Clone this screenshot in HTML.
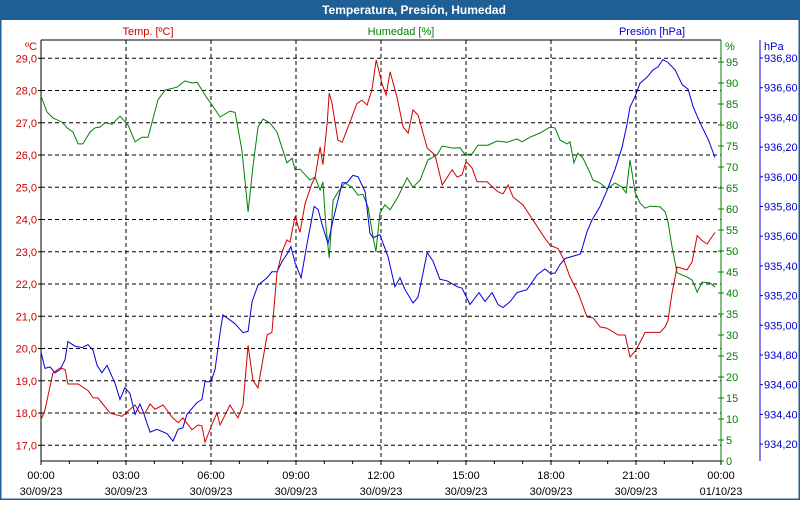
<!DOCTYPE html>
<html><head><meta charset="utf-8"><style>
body{margin:0;background:#fff;}
svg text{font-family:"Liberation Sans",sans-serif;font-size:11px;}
</style></head><body>
<svg id="chart" width="800" height="500" xmlns="http://www.w3.org/2000/svg">
<rect x="0.5" y="0.5" width="799" height="499" fill="#fff" stroke="#1e5f96" stroke-width="2"/>
<rect x="0" y="0" width="800" height="20" fill="#1e5f96"/>
<text x="414" y="14" fill="#fff" text-anchor="middle" font-weight="bold" style="font-size:12px">Temperatura, Presión, Humedad</text>
<text x="148" y="35" fill="#d00000" text-anchor="middle">Temp. [ºC]</text>
<text x="401" y="35" fill="#008000" text-anchor="middle">Humedad [%]</text>
<text x="652" y="35" fill="#0000cc" text-anchor="middle">Presión [hPa]</text>
<text x="37" y="50" fill="#d00000" text-anchor="end">ºC</text>
<text x="725" y="50" fill="#008000">%</text>
<text x="764" y="50" fill="#0000cc">hPa</text>
<g id="grid"></g><g id="axes"></g><g id="series"></g>
</svg>
<script>
const tempTicks=[17,18,19,20,21,22,23,24,25,26,27,28,29];
const humTicks=[0,5,10,15,20,25,30,35,40,45,50,55,60,65,70,75,80,85,90,95];
const presTicks=[934.2,934.4,934.6,934.8,935.0,935.2,935.4,935.6,935.8,936.0,936.2,936.4,936.6,936.8];
const timeLabels=["00:00","03:00","06:00","09:00","12:00","15:00","18:00","21:00","00:00"];
const dateLabels=["30/09/23","30/09/23","30/09/23","30/09/23","30/09/23","30/09/23","30/09/23","30/09/23","01/10/23"];
const tempHours=[0,0.14,0.42,0.67,0.85,0.95,1.31,1.66,1.84,2.01,2.44,2.86,3.32,3.49,3.67,3.85,4.02,4.31,4.62,4.84,5.01,5.33,5.54,5.68,5.79,6.07,6.21,6.32,6.67,6.95,7.13,7.31,7.48,7.66,7.98,8.15,8.33,8.51,8.68,8.79,8.97,9.14,9.32,9.57,9.67,9.85,9.95,10.1,10.17,10.27,10.48,10.63,10.91,11.15,11.33,11.51,11.68,11.83,12.04,12.18,12.32,12.57,12.78,12.96,13.13,13.31,13.63,13.91,14.16,14.51,14.69,14.86,15.0,15.21,15.39,15.74,16.13,16.31,16.49,16.66,17.01,17.37,17.72,17.97,18.25,18.43,18.67,18.96,19.27,19.49,19.73,19.98,20.37,20.62,20.79,21.0,21.32,21.67,21.85,22.03,22.13,22.27,22.45,22.8,22.98,23.16,23.33,23.51,23.79];
const tempValues=[17.79,18.1,19.24,19.4,19.35,18.9,18.9,18.7,18.47,18.47,18.0,17.9,18.25,18.0,18.0,18.28,18.12,18.25,17.88,17.7,17.85,17.48,17.63,17.6,17.1,17.72,18.0,17.63,18.25,17.85,18.25,20.1,19.02,18.78,20.42,20.5,22.35,23.0,23.37,23.3,24.1,23.6,24.5,25.13,25.3,26.25,25.7,27.0,27.92,27.6,26.46,26.4,27.03,27.6,27.7,27.55,28.02,28.95,28.2,27.86,28.58,27.77,26.87,26.68,27.4,27.24,26.22,26.0,25.07,25.54,25.32,25.38,25.8,25.6,25.17,25.17,24.86,24.8,25.07,24.7,24.45,23.98,23.5,23.2,23.1,22.8,22.22,21.72,20.98,20.95,20.67,20.63,20.42,20.42,19.74,19.95,20.5,20.5,20.5,20.67,20.88,21.72,22.53,22.44,22.69,23.5,23.35,23.24,23.6];
const humHours=[0,0.21,0.42,0.74,0.92,1.13,1.31,1.48,1.73,1.91,2.08,2.26,2.51,2.79,3.07,3.32,3.56,3.78,4.13,4.38,4.8,5.08,5.33,5.51,5.86,5.96,6.32,6.67,6.85,7.09,7.31,7.48,7.66,7.84,8.08,8.33,8.68,8.86,8.97,9.14,9.49,9.67,9.85,9.95,10.06,10.17,10.31,10.48,10.73,10.98,11.19,11.36,11.54,11.72,11.82,11.96,12.14,12.32,12.6,12.92,13.13,13.38,13.66,13.98,14.16,14.54,14.79,14.97,15.21,15.42,15.78,16.09,16.45,16.8,16.98,17.26,17.61,17.97,18.14,18.32,18.57,18.67,18.81,18.95,19.13,19.38,19.48,19.73,19.98,20.26,20.51,20.65,20.79,20.97,21.14,21.32,21.5,21.85,22.03,22.13,22.27,22.45,22.8,22.98,23.16,23.33,23.61,23.79];
const humValues=[86.9,83.1,81.7,80.7,79.3,78.3,75.5,75.5,78.3,79.3,79.5,80.5,80.2,82.1,80.0,76.0,77.1,77.1,86.0,88.3,89.0,90.5,90.0,90.2,86.4,85.5,81.9,83.3,83.0,74.0,59.3,70.0,79.5,81.4,80.5,78.3,71.0,72.1,69.3,69.5,66.9,67.6,64.5,66.4,55.7,48.3,62.1,64.0,66.2,65.2,63.3,63.5,60.5,53.3,49.8,59.0,61.0,59.8,62.9,67.4,65.2,66.9,71.7,72.9,75.0,74.5,74.6,72.9,73.1,75.2,75.2,76.2,75.9,76.7,76.0,77.1,78.1,79.5,79.3,76.4,75.5,76.0,71.0,73.3,72.1,68.6,66.9,66.2,64.8,66.2,65.2,63.8,71.7,64.0,61.4,60.2,60.7,60.5,59.3,56.9,51.0,44.8,43.8,43.1,40.2,42.6,42.4,41.4];
const presHours=[0,0.14,0.32,0.49,0.67,0.85,0.95,1.2,1.45,1.66,1.84,1.98,2.15,2.33,2.61,2.79,2.96,3.14,3.32,3.49,3.6,3.85,4.09,4.45,4.66,4.84,5.01,5.15,5.51,5.68,5.79,6.0,6.14,6.32,6.42,6.85,7.13,7.31,7.45,7.66,7.98,8.15,8.33,8.51,8.72,8.82,8.97,9.18,9.39,9.64,9.78,9.95,10.13,10.31,10.63,10.8,11.01,11.19,11.44,11.61,11.72,11.96,12.25,12.49,12.67,12.85,13.13,13.31,13.63,13.84,14.08,14.33,14.69,14.86,15.14,15.46,15.67,15.92,16.13,16.31,16.56,16.8,17.15,17.51,17.79,17.97,18.14,18.32,18.5,18.86,19.04,19.27,19.45,19.73,19.98,20.26,20.51,20.69,20.79,20.97,21.14,21.39,21.6,21.78,21.95,22.13,22.38,22.63,22.84,23.02,23.27,23.55,23.79];
const presValues=[934.82,934.71,934.72,934.68,934.70,934.77,934.89,934.86,934.85,934.87,934.83,934.73,934.68,934.73,934.61,934.50,934.58,934.54,934.40,934.47,934.42,934.28,934.30,934.27,934.22,934.30,934.31,934.40,934.48,934.50,934.62,934.62,934.70,934.95,935.07,935.01,934.95,934.96,935.16,935.27,935.32,935.36,935.36,935.43,935.49,935.53,935.42,935.32,935.55,935.80,935.78,935.66,935.55,935.71,935.96,935.96,936.01,936.00,935.90,935.62,935.59,935.61,935.46,935.26,935.32,935.24,935.15,935.19,935.49,935.43,935.31,935.30,935.26,935.25,935.14,935.22,935.16,935.22,935.14,935.12,935.16,935.22,935.24,935.34,935.38,935.35,935.35,935.41,935.45,935.47,935.48,935.63,935.71,935.80,935.91,936.05,936.20,936.36,936.47,936.54,936.63,936.67,936.72,936.74,936.79,936.77,936.72,936.62,936.59,936.47,936.36,936.25,936.13];

const NS="http://www.w3.org/2000/svg";
const X0=41,X1=721,YT=40,YB=461;
function xOf(h){return X0+(h/24)*(X1-X0);}
function yTemp(t){return 58.3+(29-t)*32.25;}
function yHum(v){return 461-v*4.2;}
function yPres(p){return 58+(936.8-p)*148.5;}
function mk(tag,attrs,parent){const e=document.createElementNS(NS,tag);for(const k in attrs)e.setAttribute(k,attrs[k]);parent.appendChild(e);return e;}
const grid=document.getElementById('grid'),axes=document.getElementById('axes'),series=document.getElementById('series');

tempTicks.forEach(t=>{
  const y=yTemp(t);
  const g=mk('line',{x1:X0,x2:X1,y1:y,y2:y,stroke:'#000','stroke-dasharray':'4,3','stroke-width':1},grid);
  
  
  const tk=mk('line',{x1:X0-3,x2:X0,y1:y,y2:y,stroke:'#000'},axes);
  
  
  const tx=mk('text',{x:37,y:y+4,fill:'#d00000','text-anchor':'end'},axes);
  tx.textContent=t.toFixed(1).replace('.',',');
  
  
});
for(let k=1;k<8;k++){
  const x=xOf(k*3);
  const g=mk('line',{x1:x,x2:x,y1:YT,y2:YB,stroke:'#000','stroke-dasharray':'4,3'},grid);
  
  
}
for(let h=0;h<=24;h++){
  const x=xOf(h);
  const tk=mk('line',{x1:x,x2:x,y1:YB,y2:YB+(h%3==0?4:3),stroke:'#000'},axes);
  
  
}
timeLabels.forEach((l,i)=>{
  const x=xOf(i*3);
  const a=mk('text',{x:x,y:479,fill:'#000','text-anchor':'middle'},axes);
  a.textContent=l;
  
  
  const b=mk('text',{x:x,y:495,fill:'#000','text-anchor':'middle'},axes);
  b.textContent=dateLabels[i];
  
  
});
humTicks.forEach(v=>{
  const y=yHum(v);
  const tk=mk('line',{x1:X1-3,x2:X1+3,y1:y,y2:y,stroke:'#008000'},axes);
  
  
  const tx=mk('text',{x:726,y:y+4,fill:'#008000'},axes);
  tx.textContent=v;
  
  
});
presTicks.forEach(p=>{
  const y=yPres(p);
  const tk=mk('line',{x1:760,x2:763,y1:y,y2:y,stroke:'#0000cc'},axes);
  
  
  const tx=mk('text',{x:764,y:y+4,fill:'#0000cc'},axes);
  tx.textContent=p.toFixed(2).replace('.',',');
  
  
});
const la=mk('line',{x1:X0,x2:X0,y1:YT,y2:YB+0.5,stroke:'#000'},axes);


const ta=mk('line',{x1:X0,x2:X1,y1:YT,y2:YT,stroke:'#000'},axes);


const ba=mk('line',{x1:X0,x2:X1,y1:YB,y2:YB,stroke:'#000'},axes);


const ga=mk('line',{x1:X1,x2:X1,y1:YT,y2:YB,stroke:'#008000'},axes);


const pa=mk('line',{x1:760,x2:760,y1:YT,y2:YB,stroke:'#0000cc'},axes);



function pts(hs,vs,yf){return hs.map((h,i)=>xOf(h).toFixed(1)+','+yf(vs[i]).toFixed(1)).join(' ');}
const hl=mk('polyline',{points:pts(humHours,humValues,yHum),fill:'none',stroke:'#008000','stroke-width':1},series);


const pl=mk('polyline',{points:pts(presHours,presValues,yPres),fill:'none',stroke:'#0000dd','stroke-width':1},series);


const tl=mk('polyline',{points:pts(tempHours,tempValues,yTemp),fill:'none',stroke:'#d00000','stroke-width':1},series);


</script>
</body></html>
